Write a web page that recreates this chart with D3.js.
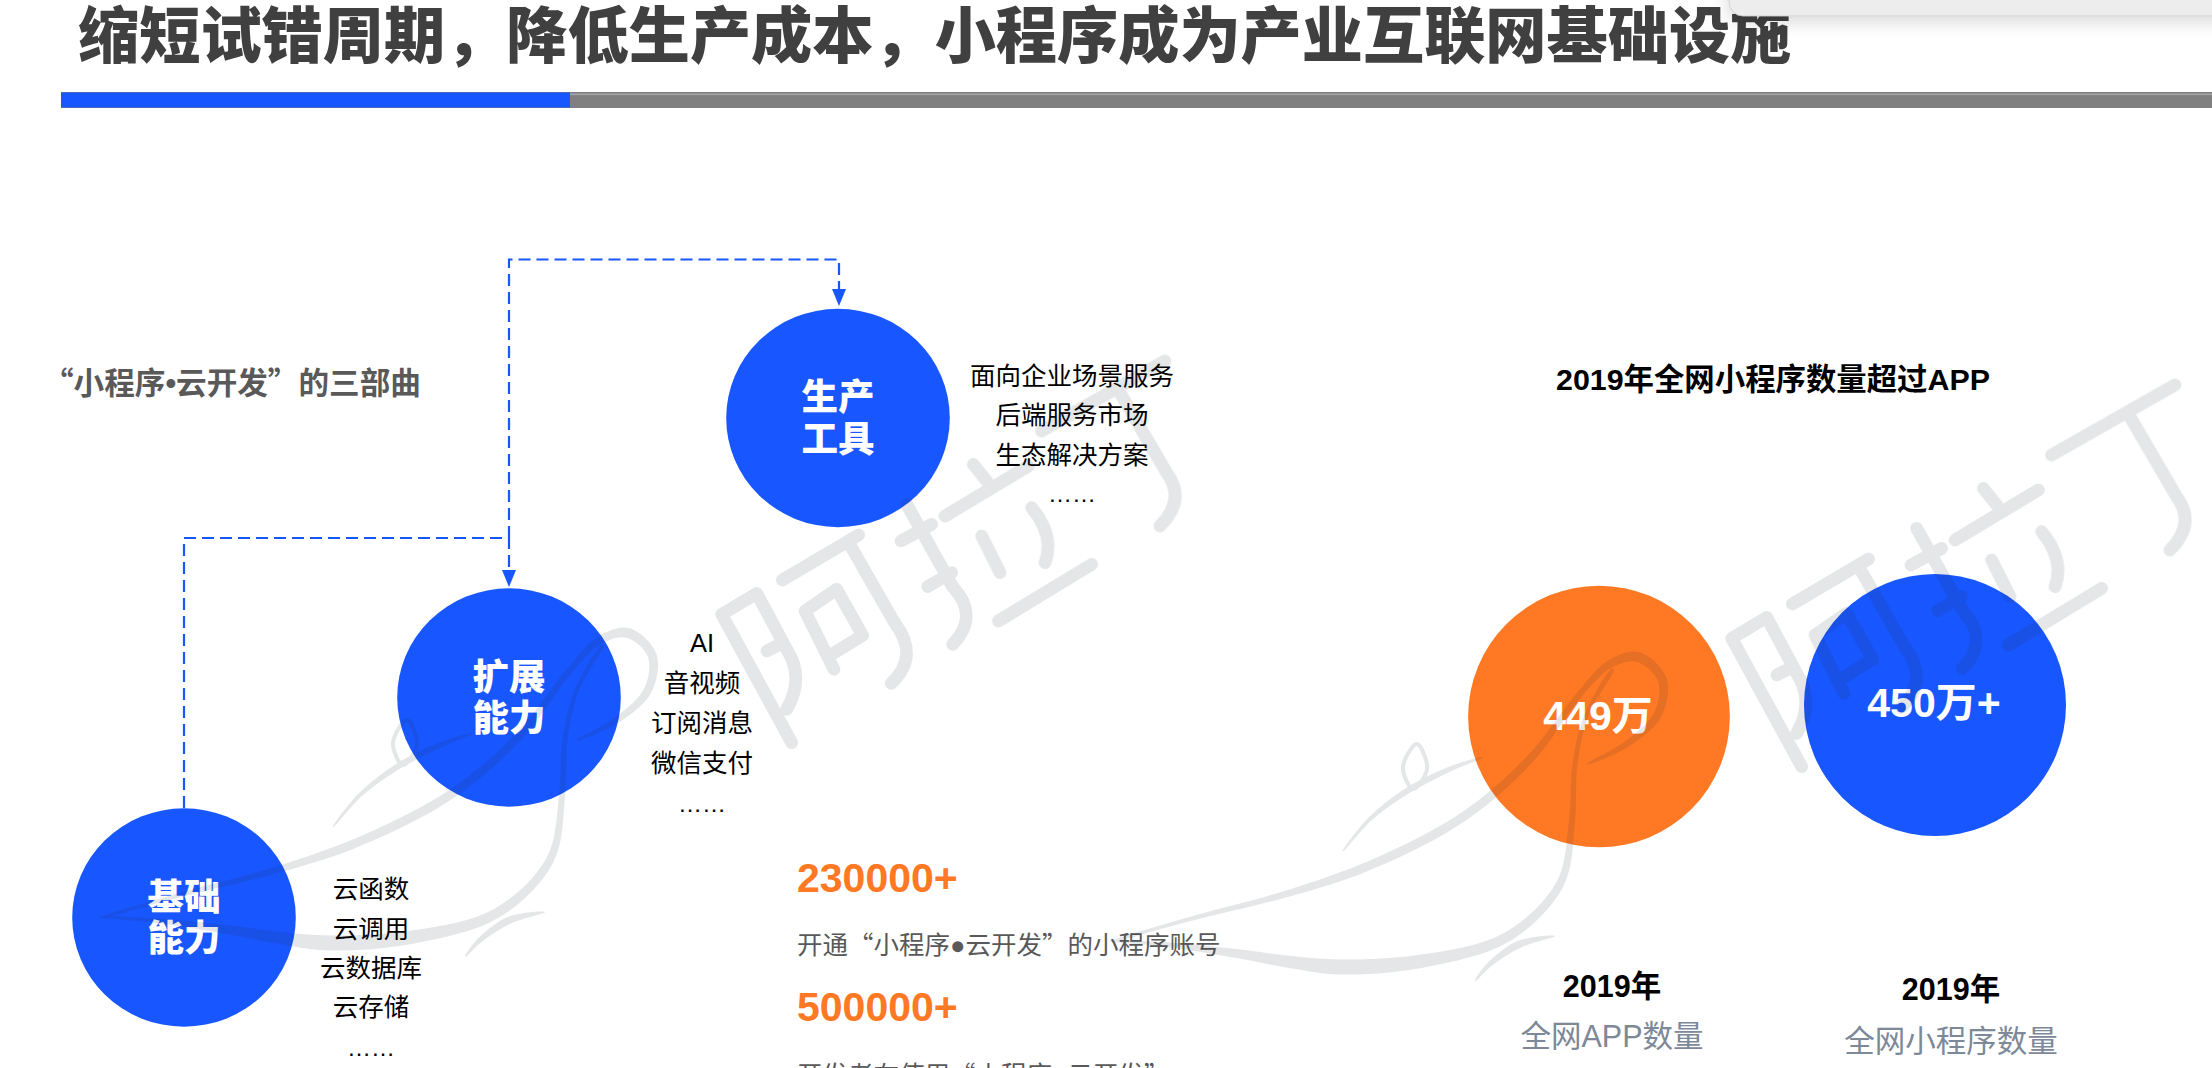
<!DOCTYPE html>
<html lang="zh">
<head>
<meta charset="utf-8">
<script src="https://cdn.jsdelivr.net/npm/d3@7/dist/d3.min.js"></script>
<style>
html,body{margin:0;padding:0;background:#fff;overflow:hidden}
svg{display:block}
text{font-family:"Liberation Sans","Noto Sans CJK SC",sans-serif}
.cjk{font-family:"Noto Sans CJK SC",sans-serif}
</style>
</head>
<body>
<svg id="c" width="2212" height="1068" viewBox="0 0 2212 1068"></svg>
<script>
// ---- content ----
const titleText = "缩短试错周期，降低生产成本，小程序成为产业互联网基础设施";
const leftHeading = ["“小程序", "•", "云开发”的三部曲"];
const rightHeading = "2019年全网小程序数量超过APP";
const stageNames = [["基础","能力"],["扩展","能力"],["生产","工具"]];
const stageItems = [
  ["云函数","云调用","云数据库","云存储","……"],
  ["AI","音视频","订阅消息","微信支付","……"],
  ["面向企业场景服务","后端服务市场","生态解决方案","……"]
];
const statValues = ["230000+","500000+"];
const statCaptions = [
  ["开通“小程序","●","云开发”的小程序账号"],
  ["开发者在使用“小程序","●","云开发”"]
];
const bubbleValues = [449, 450];
const bubbleLabels = ["449万","450万+"];
const bubbleYears = ["2019年","2019年"];
const bubbleNames = ["全网APP数量","全网小程序数量"];

// ---- layout and style ----
const BLUE="#1856ff", ORANGE="#ff7823";
const stagePos = [[184,917.5],[509,697.5],[838,418]];
const itemPos = [
  {x:371,ys:[890,930,969,1008],dots:1056},
  {x:702,ys:[644,684,724,764],dots:812},
  {x:1072,ys:[377,416,456],dots:502}
];
const bubblePos = [[1599,716.5],[1935,705]];
const bubbleLabelPos = [[1598,716],[1934,703]];
const yearPos = [[1612,987],[1951,990]];
const namePos = [[1612,1037],[1951,1041.5]];
const statY = [891.5,1020.5], capY = [946,1076];

const svg = d3.select("#c");
const CJK = 0.33; // distance from glyph centre to baseline, in em
function t(g,x,y,size,fill,weight,anchor){
  return g.append("text").attr("x",x).attr("y",y+size*CJK).attr("font-size",size)
    .attr("fill",fill).attr("font-weight",weight||400).attr("text-anchor",anchor||"middle");
}

// title
t(svg,78,38,61.2,"#404040",900,"start").attr("class","cjk").text(titleText);

// rule
svg.append("rect").attr("x",61).attr("y",92).attr("width",2151).attr("height",16).attr("fill","#808080");
svg.append("rect").attr("x",61).attr("y",93.5).attr("width",2151).attr("height",1.6).attr("fill","#a6a6a6");
svg.append("rect").attr("x",61).attr("y",92.5).attr("width",509).attr("height",15).attr("fill",BLUE);

// leftover window edge, top right
const defs = svg.append("defs");
const sh = defs.append("filter").attr("id","sh").attr("x","-10%").attr("y","-100%").attr("width","120%").attr("height","400%");
sh.append("feDropShadow").attr("dx",0).attr("dy",5).attr("stdDeviation",9).attr("flood-color","#000").attr("flood-opacity",.16);
svg.append("rect").attr("x",1729).attr("y",-40).attr("width",640).attr("height",56).attr("rx",14)
  .attr("fill","#ededed").attr("stroke","#c8c8c8").attr("stroke-width",.8).attr("filter","url(#sh)");

// headings
const lh = t(svg,43,384,30.6,"#595959",700,"start").attr("class","cjk");
lh.selectAll("tspan").data(leftHeading).join("tspan").text(d=>d)
  .style("font-family",(d,i)=>i===1?'"Liberation Sans"':null);
t(svg,1773,380,30.4,"#000",700).text(rightHeading);

// connectors
const conn = d3.line();
const links = [
  [[184,808],[184,538],[509,538],[509,575]],
  [[509,538],[509,259.5],[839,259.5],[839,295]]
];
svg.selectAll("path.link").data(links).join("path").attr("class","link")
  .attr("d",conn).attr("fill","none").attr("stroke",BLUE).attr("stroke-width",2.2).attr("stroke-dasharray","12 6");
const tips = [[509,587],[839,306]];
svg.selectAll("path.tip").data(tips).join("path").attr("class","tip")
  .attr("d",d=>conn([[d[0]-7,d[1]-17],[d[0]+7,d[1]-17],[d[0],d[1]]])+"Z").attr("fill",BLUE);

// stage circles
const stages = svg.selectAll("g.stage").data(stageNames).join("g").attr("class","stage");
stages.append("ellipse").attr("cx",(d,i)=>stagePos[i][0]).attr("cy",(d,i)=>stagePos[i][1])
  .attr("rx",111.8).attr("ry",109.2).attr("fill",BLUE);
stages.each(function(names,i){
  const g=d3.select(this), [cx,cy]=stagePos[i];
  names.forEach((n,j)=>t(g,cx,cy+(j?21.5:-20),36.5,"#fff",900).attr("class","cjk").text(n));
});

// stage lists
stageItems.forEach((items,i)=>{
  const p=itemPos[i];
  items.forEach((s,j)=>{
    if(s==="……"){
      svg.append("text").attr("x",p.x).attr("y",p.dots).attr("font-size",24).attr("text-anchor","middle").attr("fill","#000").text(s);
    } else {
      t(svg,p.x,p.ys[j],25.5,"#000",400).text(s);
    }
  });
});

// stats
statValues.forEach((s,i)=>{
  svg.append("text").attr("x",797).attr("y",statY[i]).attr("font-size",41).attr("font-weight",700)
    .attr("fill",ORANGE).text(s);
});
statCaptions.forEach((parts,i)=>{
  const e=t(svg,797,capY[i],25.5,"#595959",400,"start").attr("class","cjk");
  e.selectAll("tspan").data(parts).join("tspan").text(d=>d)
    .style("font-family",(d,k)=>k===1?'"Liberation Sans"':null);
});

// bubbles
const rScale = d3.scaleSqrt().domain([0,450]).range([0,131]);
svg.selectAll("circle.bubble").data(bubbleValues).join("circle").attr("class","bubble")
  .attr("cx",(d,i)=>bubblePos[i][0]).attr("cy",(d,i)=>bubblePos[i][1])
  .attr("r",d=>rScale(d)).attr("fill",(d,i)=>i?BLUE:ORANGE);
bubbleLabels.forEach((s,i)=>t(svg,bubbleLabelPos[i][0],bubbleLabelPos[i][1],41,"#fff",700).text(s));
bubbleYears.forEach((s,i)=>t(svg,yearPos[i][0],yearPos[i][1],30.5,"#000",700).text(s));
bubbleNames.forEach((s,i)=>t(svg,namePos[i][0],namePos[i][1],30.5,"#7d8898",400).text(s));

// ---- watermark (logo drawn twice, one translucent layer over everything) ----
const wmBody = [
  [[100,918,.5],[180,895,4],[283,868,7],[363,840,9],[453,793,9],[520,735,8],[570,670,6],[600,640,8],[628,633,10],[652,655,9],[648,690,8],[617,720,6],[577,740,.5]],
  [[603,645,2],[577,690,4],[565,740,5],[562,797,6],[550,860,8],[497,913,10],[413,937,13],[330,943,15],[280,938,12],[230,930,9],[150,920,4],[100,917,.5]],
  [[545,912,.5],[510,920,7],[480,940,5],[465,957,.5]],
  [[333,827,.5],[360,795,4],[397,767,6],[440,745,5],[473,733,.5]]
];
const wmPetal = [[403,765],[393,743],[407,720],[417,745]];
const wmGlyphs = [
  "M305,1160L95,775L200,712L290,880Q345,965 290,1060M231,885L280,860",
  "M277,672L506,537M483,572L615,802Q690,900 604,982M432,940L345,765L440,700L518,838L425,895",
  "M650,445L788,692Q870,780 788,865M633,555L725,505M713,692L785,650",
  "M850,325L890,375M765,480L1015,330M875,540L930,650M1025,455Q1095,540 1065,620M925,795L1205,625",
  "M1055,225L1425,15M1290,110L1430,350Q1490,430 1410,510"
];
function ribbon(pts){
  const up=[],lo=[];
  pts.forEach((p,i)=>{
    const a=pts[Math.max(i-1,0)],b=pts[Math.min(i+1,pts.length-1)];
    const dx=b[0]-a[0],dy=b[1]-a[1],l=Math.hypot(dx,dy)||1,nx=-dy/l,ny=dx/l,h=p[2]/2;
    up.push([p[0]+nx*h,p[1]+ny*h]); lo.unshift([p[0]-nx*h,p[1]-ny*h]);
  });
  return d3.line().curve(d3.curveCatmullRomClosed)(up.concat(lo));
}
const WM="#26323d";
const wm = svg.append("g").attr("opacity",.125);
[[0,0],[1010,24]].forEach(o=>{
  const g=wm.append("g").attr("transform",`translate(${o[0]},${o[1]})`);
  g.selectAll("path.b").data(wmBody).join("path").attr("class","b").attr("d",ribbon).attr("fill",WM);
  g.append("path").attr("d",d3.line().curve(d3.curveCatmullRomClosed)(wmPetal))
    .attr("fill","none").attr("stroke",WM).attr("stroke-width",4);
  g.selectAll("path.glyph").data(wmGlyphs).join("path").attr("class","glyph")
    .attr("transform","translate(690,356) scale(0.3333)")
    .attr("d",d=>d).attr("fill","none")
    .attr("stroke",WM).attr("stroke-width",38).attr("stroke-linecap","round").attr("stroke-linejoin","round");
});
</script>
</body>
</html>
